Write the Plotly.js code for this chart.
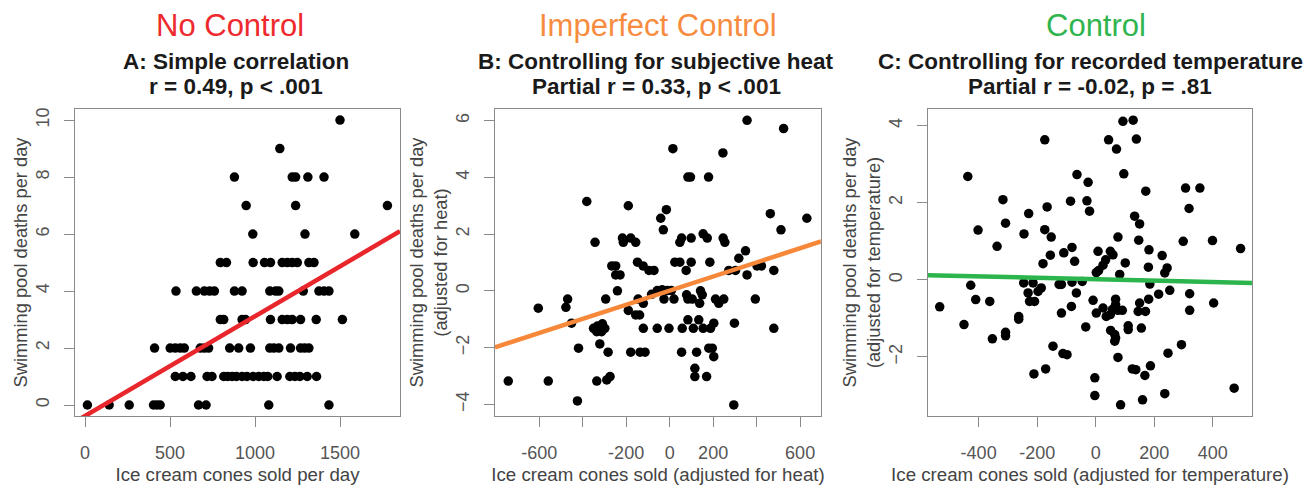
<!DOCTYPE html>
<html>
<head>
<meta charset="utf-8">
<script src="https://cdn.plot.ly/plotly-3.0.1.min.js"></script>
<style>html,body{margin:0;padding:0;background:#fff;}#chart{width:1315px;height:485px;}</style>
</head>
<body>
<div id="chart"></div>
<script>
// ---------- Panel A: simple correlation ----------
const aX = [1500,
  1146,
  879, 1219, 1239, 1311, 1406,
  948, 1239, 1779,
  987, 1294, 1587,
  796, 832, 989, 1056, 1091, 1160, 1190, 1219, 1249, 1317, 1347,
  535, 655, 702, 733, 761, 879, 924, 1087, 1121, 1140, 1284, 1376, 1406, 1435,
  796, 816, 924, 944, 1091, 1160, 1190, 1219, 1268, 1360, 1514,
  409, 501, 531, 560, 584, 678, 702, 727, 851, 904, 973, 1087, 1111, 1140, 1209, 1268, 1292, 1317,
  531, 576, 623, 718, 747, 816, 839, 865, 891, 924, 953, 989, 1022, 1052, 1075, 1130, 1205, 1235, 1264, 1307, 1362,
  14, 142, 260, 403, 423, 442, 668, 712, 1081, 1435];
const aY = [10,
  9,
  8, 8, 8, 8, 8,
  7, 7, 7,
  6, 6, 6,
  5, 5, 5, 5, 5, 5, 5, 5, 5, 5, 5,
  4, 4, 4, 4, 4, 4, 4, 4, 4, 4, 4, 4, 4, 4,
  3, 3, 3, 3, 3, 3, 3, 3, 3, 3, 3,
  2, 2, 2, 2, 2, 2, 2, 2, 2, 2, 2, 2, 2, 2, 2, 2, 2, 2,
  1, 1, 1, 1, 1, 1, 1, 1, 1, 1, 1, 1, 1, 1, 1, 1, 1, 1, 1, 1, 1,
  0, 0, 0, 0, 0, 0, 0, 0, 0, 0];
const aLineX = [-59, 1853];
const aLineY = [-0.59, 6.10];

// ---------- Panel B: controlling for subjective heat ----------
const bX = [356, 524, 15, 245, 84, 96, 179, -381, -190, -15, -41, -29, 463, 631, 512,
  -343, -217, -213, -179, -156, 47, 55, 99, 154, 173, 246, 254, 349, 318,
  -266, -248, -248, -228, -148, -122, -95, -72, 24, 47, 99, 76, 185, 272, 303, 356, 402, 422, 479,
  -240, -294, -469, -477, -604, -451, -350, -332, -309, -298, -335, -313,
  -190, -156, -138, -145, -121, -83, -57, -34, -11, 8, -26, 20, 78, 84, 104, 142, 150, 138,
  211, 226, 249, 394, 84, 134, 203, 188, -121, -57, -3, 58, 109, 154, 298, 479,
  -419, -321, -283, -179, -136, -113, 55, 124, 180, 196, 203,
  -742, -558, -335, -289, -274, 116, 116, 170, -424, 295];
const bY = [6.01, 5.72, 5.01, 4.86, 4.01, 4.01, 4.01, 3.15, 3.0, 2.86, 2.56, 2.15, 2.72, 2.56, 2.15,
  1.71, 1.86, 1.71, 1.86, 1.71, 1.71, 1.86, 1.86, 2.01, 1.86, 1.86, 1.71, 1.41, 1.15,
  0.88, 0.88, 0.56, 0.56, 1.01, 0.88, 0.72, 0.72, 1.01, 1.01, 1.01, 0.72, 1.01, 0.72, 0.72, 0.56, 0.88, 0.88, 0.72,
  0.0, -0.29, -0.29, -0.58, -0.61, -1.14, -1.32, -1.24, -1.16, -1.32, -1.44, -1.44,
  -0.69, -0.85, -0.85, -0.29, -0.44, -0.12, 0.01, 0.04, 0.01, 0.01, -0.29, -0.29, -0.14, -0.29, -0.29, 0.0, -0.14, -0.44,
  -0.29, -0.44, -0.29, -0.29, -1.02, -1.02, -1.14, -1.32, -1.32, -1.32, -1.32, -1.32, -1.32, -1.32, -1.14, -1.32,
  -2.02, -1.87, -2.16, -2.16, -2.16, -2.16, -2.16, -2.16, -2.02, -2.02, -2.32,
  -3.18, -3.18, -3.18, -3.14, -3.02, -2.73, -3.02, -3.02, -3.88, -4.02];
const bLineX = [-803, 696];
const bLineY = [-1.99, 1.74];

// ---------- Panel C: controlling for recorded temperature ----------
const cX = [93, 128, -174, 44, 139, 71, 96, -437, -64, -26, 171, 307, 356, -317, -86, -30, -21, -166, -229, 319,
  -308, -402, -245, -174, -152, 133, 150, 76, 147, 299, 399, 495, -337, -109, -81, -155, -72, -180, 8, 50, 59,
  34, 25, 2, 10, 101, 82, 182, 227, 180, 244, 236,
  -427, -246, -214, -125, -117, -81, -46, 185, -533, -410, -362, -231, -226, -209, -197, -186, -66, -83, -117,
  -9, 2, 25, 36, 50, 68, 68, 76, 91, 57, 150, 145, 170, 181, 215, 253, 321, 321, 403,
  -450, -263, -263, -34, 111, 111, 156, 51, 65, 68, 65, -353, -308, -308, -146, -112, -98, 76, 247, 293,
  -211, -171, -3, 125, 137, 187, 168, -3, 85, 160, 236, 473];
const cY = [4.11, 4.14, 3.63, 3.63, 3.65, 3.39, 2.75, 2.68, 2.73, 2.53, 2.30, 2.38, 2.38, 2.08, 2.04, 2.05, 1.78, 1.89, 1.72, 1.85,
  1.47, 1.29, 1.19, 1.30, 1.11, 1.65, 1.45, 1.11, 1.03, 1.00, 1.02, 0.81, 0.87, 0.70, 0.84, 0.64, 0.48, 0.42, 0.74, 0.74, 0.65,
  0.52, 0.38, 0.19, 0.24, 0.44, 0.14, 0.78, 0.63, 0.33, 0.31, 0.18,
  -0.14, -0.08, -0.08, -0.12, -0.12, -0.06, -0.04, -0.11, -0.70, -0.51, -0.56, -0.34, -0.56, -0.56, -0.30, -0.21, -0.34, -0.69, -0.86,
  -0.53, -0.86, -0.73, -0.95, -0.90, -0.50, -0.64, -0.79, -0.79, -0.77, -0.60, -0.82, -0.82, -0.50, -0.37, -0.27, -0.36, -0.79, -0.60,
  -1.16, -0.95, -1.02, -1.22, -1.19, -1.29, -1.25, -1.31, -1.42, -1.51, -1.59, -1.53, -1.36, -1.45, -1.72, -1.91, -1.94, -2.01, -1.90, -1.68,
  -2.44, -2.31, -2.54, -2.31, -2.33, -2.23, -2.48, -3.00, -3.24, -3.11, -2.95, -2.81];
const cLineX = [-573, 534];
const cLineY = [0.12, -0.08];

// ---------- Text ----------
const mainTitles = ["No Control", "Imperfect Control", "Control"];
const subTitles1 = ["A: Simple correlation", "B: Controlling for subjective heat", "C: Controlling for recorded temperature"];
const subTitles2 = ["r = 0.49, p < .001", "Partial r = 0.33, p < .001", "Partial r = -0.02, p = .81"];
const xTitles = ["Ice cream cones sold per day", "Ice cream cones sold (adjusted for heat)", "Ice cream cones sold (adjusted for temperature)"];
const yTitles = ["Swimming pool deaths per day", "Swimming pool deaths per day<br>(adjusted for heat)", "Swimming pool deaths per day<br>(adjusted for temperature)"];
const aXTicks = [0, 500, 1000, 1500];
const aXTickText = ["0", "500", "1000", "1500"];
const bXTicks = [-600, -400, -200, 0, 200, 400, 600];
const bXTickText = ["-600", "", "-200", "0", "200", "", "600"];
const cXTicks = [-400, -200, 0, 200, 400];
const cXTickText = ["-400", "-200", "0", "200", "400"];
const aYTicks = [0, 2, 4, 6, 8, 10];
const bYTicks = [-4, -2, 0, 2, 4, 6];
const cYTicks = [-2, 0, 2, 4];

const W = 1315, H = 485;
const FONT = "Liberation Sans, Arial, Helvetica, sans-serif";
const lineColors = ["#E8262C", "#F7883A", "#2BB54C"];
const titleColors = ["#EE2A2E", "#F78C40", "#30B54E"];

function px2x(p) { return p / W; }
function px2y(p) { return 1 - p / H; }

const frames = [[75, 400], [495, 821], [928, 1252]];
const yDom = [px2y(416), px2y(109)];

function dots(x, y, i) {
  const s = i === 0 ? "" : String(i + 1);
  return {x: x, y: y, xaxis: "x" + s, yaxis: "y" + s, type: "scatter", mode: "markers",
    marker: {color: "#000", size: 9.5, line: {width: 0}}, hoverinfo: "x+y"};
}
function fit(x, y, i) {
  const s = i === 0 ? "" : String(i + 1);
  return {x: x, y: y, xaxis: "x" + s, yaxis: "y" + s, type: "scatter", mode: "lines",
    line: {color: lineColors[i], width: 4.5}, hoverinfo: "skip"};
}

const data = [
  dots(aX, aY, 0), fit(aLineX, aLineY, 0),
  dots(bX, bY, 1), fit(bLineX, bLineY, 1),
  dots(cX, cY, 2), fit(cLineX, cLineY, 2)
];

function xAx(i, range, tv, tt) {
  return {domain: [px2x(frames[i][0]), px2x(frames[i][1])], anchor: i === 0 ? "y" : "y" + (i + 1),
    range: range, tickvals: tv, ticktext: tt, showgrid: false, zeroline: false,
    showline: true, mirror: true, linecolor: "#8a8a8a", linewidth: 1,
    ticks: "outside", ticklen: 10, tickwidth: 1, tickcolor: "#8a8a8a", ticklabelstandoff: 10,
    tickfont: {family: FONT, size: 18, color: "#555"},
    title: {text: xTitles[i], standoff: 8, font: {family: FONT, size: 18.7, color: "#444"}},
    fixedrange: true};
}
function yAx(i, range, tv) {
  return {domain: yDom, anchor: i === 0 ? "x" : "x" + (i + 1),
    range: range, tickvals: tv, showgrid: false, zeroline: false,
    showline: true, mirror: true, linecolor: "#8a8a8a", linewidth: 1,
    ticks: "outside", ticklen: 10, tickwidth: 1, tickcolor: "#8a8a8a", tickangle: -90, ticklabelstandoff: 8,
    tickfont: {family: FONT, size: 18, color: "#555"},
    title: {text: yTitles[i], standoff: 0, font: {family: FONT, size: 18.3, color: "#444"}},
    fixedrange: true};
}

const mainX = [230, 658, 1096];
const subX = [236, 656, 1090];
const annotations = [];
for (let i = 0; i < 3; i++) {
  annotations.push({text: mainTitles[i], xref: "paper", yref: "paper", x: px2x(mainX[i]), y: px2y(25), xanchor: "center", yanchor: "middle",
    showarrow: false, font: {family: FONT, size: 31, color: titleColors[i]}});
  annotations.push({text: "<b>" + subTitles1[i] + "</b>", xref: "paper", yref: "paper", x: px2x(subX[i]), y: px2y(62), xanchor: "center", yanchor: "middle",
    showarrow: false, font: {family: FONT, size: 22.5, color: "#1a1a1a"}});
  annotations.push({text: "<b>" + subTitles2[i] + "</b>", xref: "paper", yref: "paper", x: px2x(subX[i]), y: px2y(86.5), xanchor: "center", yanchor: "middle",
    showarrow: false, font: {family: FONT, size: 22.5, color: "#1a1a1a"}});
}

const layout = {
  width: W, height: H, margin: {l: 0, r: 0, t: 0, b: 0, pad: 0},
  paper_bgcolor: "#fff", plot_bgcolor: "#fff", showlegend: false,
  font: {family: FONT},
  xaxis: xAx(0, [-59, 1853], aXTicks, aXTickText),
  yaxis: yAx(0, [-0.386, 10.39], aYTicks),
  xaxis2: xAx(1, [-803, 696], bXTicks, bXTickText),
  yaxis2: yAx(1, [-4.41, 6.41], bYTicks),
  xaxis3: xAx(2, [-573, 534], cXTicks, cXTickText),
  yaxis3: yAx(2, [-3.53, 4.43], cYTicks),
  annotations: annotations
};

Plotly.newPlot("chart", data, layout, {displayModeBar: false, staticPlot: true});
</script>
</body>
</html>
